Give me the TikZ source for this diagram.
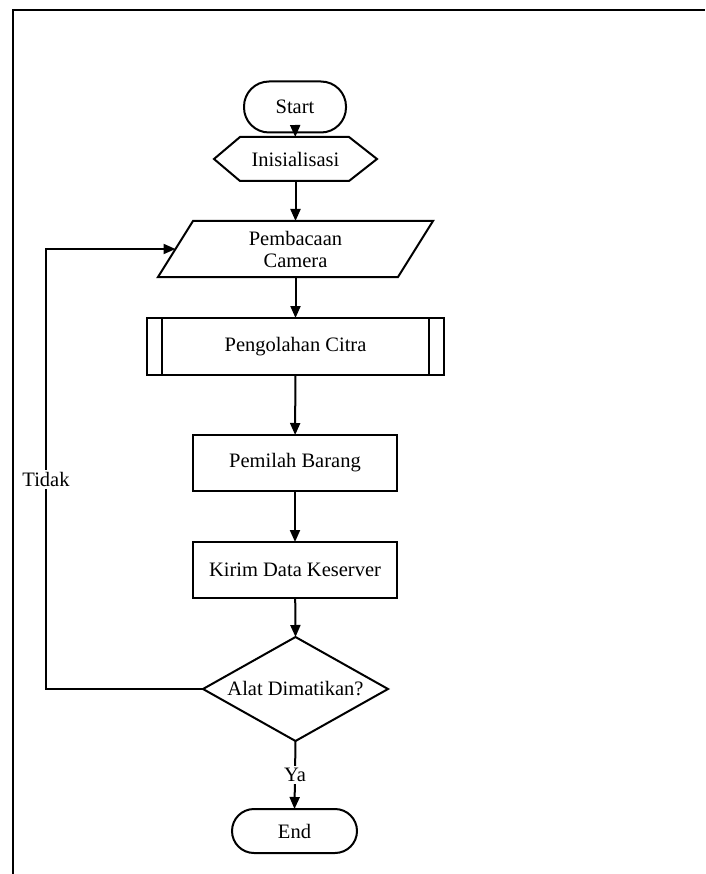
\documentclass[tikz,border=0pt]{standalone}
\usepackage{fontspec}
\setmainfont{Liberation Serif}
\usetikzlibrary{arrows.meta}
\begin{document}
\begin{tikzpicture}[x=1pt,y=-1pt,
  every node/.style={font=\fontsize{20.5}{22}\selectfont, inner sep=0pt, outer sep=0pt},
  shp/.style={line width=2pt, line join=miter},
  terminal/.style={draw, shp},
  box/.style={draw, shp, minimum width=#1},
  arr/.style={-{Triangle[length=12pt,width=10pt]}, line width=2pt},
  lbl/.style={fill=white, inner sep=2pt}
]
\useasboundingbox (0,0) rectangle (705,874);
% frame
\draw[line width=2.5pt] (13,874) -- (13,10) -- (705,10);

% nodes
\node[terminal, rounded corners=25pt, minimum width=102pt, minimum height=51pt] (start) at (295,107) {Start};

\node[minimum width=163pt, minimum height=44pt] (init) at (295.5,159) {Inisialisasi};
\draw[shp] (init.west) -- ([xshift=26pt]init.north west) -- ([xshift=-28pt]init.north east)
  -- (init.east) -- ([xshift=-28pt]init.south east) -- ([xshift=26pt]init.south west) -- cycle;

\node[minimum width=240pt, minimum height=56pt, align=center] (cam) at (295.5,249) {Pembacaan\\Camera};
\draw[shp] ([xshift=17.5pt]cam.north west) -- ([xshift=17.5pt]cam.north east)
  -- ([xshift=-17.5pt]cam.south east) -- ([xshift=-17.5pt]cam.south west) -- cycle;

\node[box=297pt, minimum height=57pt] (proc) at (295.5,346.5) {Pengolahan Citra};
\draw[shp] ([xshift=15pt]proc.north west) -- ([xshift=15pt]proc.south west);
\draw[shp] ([xshift=-15pt]proc.north east) -- ([xshift=-15pt]proc.south east);

\node[box=204pt, minimum height=56pt] (sort) at (295,463) {Pemilah Barang};
\node[box=204pt, minimum height=56pt] (send) at (295,570) {Kirim Data Keserver};

\node[minimum width=185pt, minimum height=104pt] (dec) at (295.5,689) {Alat Dimatikan?};
\draw[shp] (dec.west) -- (dec.north) -- (dec.east) -- (dec.south) -- cycle;

\node[terminal, rounded corners=22pt, minimum width=125pt, minimum height=44pt] (end) at (294.5,831) {End};

% connectors
\draw[arr] (start) -- (init);
\draw[arr] (init) -- (cam);
\draw[arr] (cam.south) -- (proc.north);
\draw[arr] (proc) -- (sort);
\draw[arr] (sort) -- (send);
\draw[arr] (send) -- (dec.north);
\draw[arr] (dec.south) -- node[lbl] (ya) {Ya} (end.north);

\coordinate (c1) at (46,689);
\draw[arr] (dec.west) -- (c1) -- node[lbl, pos=0.476] (tidak) {Tidak} (c1 |- cam.west) -- (cam.west);
\end{tikzpicture}
\end{document}
